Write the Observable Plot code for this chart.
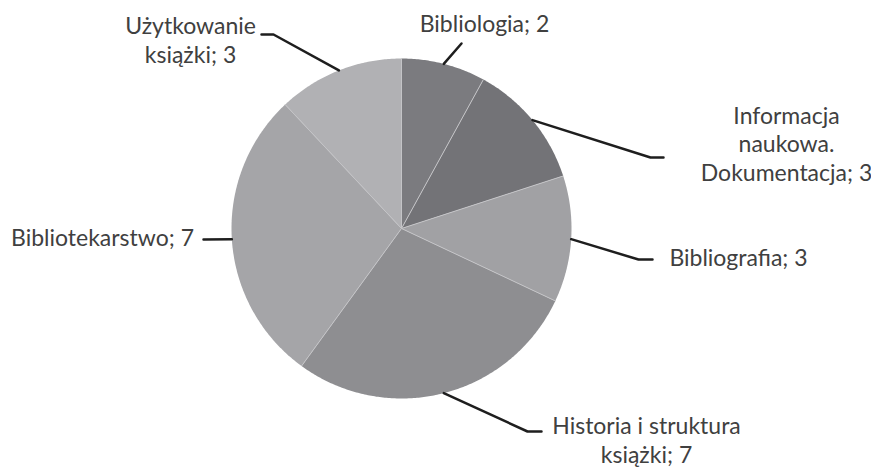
<!DOCTYPE html>
<html><head><meta charset="utf-8">
<script src="https://cdn.jsdelivr.net/npm/d3@7"></script>
<script src="https://cdn.jsdelivr.net/npm/@observablehq/plot@0.6"></script>
<style>body{margin:0;background:#fff}</style>
</head><body><div id="chart"></div>
<script>
// ---- data ----
const categories = ["Bibliologia", "Informacja naukowa. Dokumentacja", "Bibliografia", "Historia i struktura książki", "Bibliotekarstwo", "Użytkowanie książki"];
const values = [2, 3, 3, 7, 7, 3];
const labels = ["Bibliologia; 2", "Informacja\nnaukowa.\nDokumentacja; 3", "Bibliografia; 3", "Historia i struktura\nksiążki; 7", "Bibliotekarstwo; 7", "Użytkowanie\nksiążki; 3"];
const sliceColors = ["#7b7b7f", "#737377", "#a1a1a4", "#8e8e91", "#a5a5a8", "#b1b1b4"];

// ---- layout ----
const W = 871, H = 468, CX = 401, CY = 228, R = 170;
const labelPos = [
  {x: 484, y: 31, path: [[461, 43]]},
  {x: 786, y: 180, path: [[650, 157], [663, 157]]},
  {x: 738, y: 265, path: [[638, 259], [652, 259]]},
  {x: 646, y: 462, path: [[527, 431], [541, 431]]},
  {x: 102, y: 245, path: [[203, 239]]},
  {x: 190, y: 62, path: [[273, 34], [261, 34]]}
];

const table = categories.map((c, i) => ({cat: c, value: values[i], label: labels[i]}));
const arcs = d3.pie().sort(null).value(d => d.value)(table);
const px = (a, r) => CX + r * Math.sin(a);
const py = (a, r) => CY - r * Math.cos(a);

const sliceData = [];
arcs.forEach(a => {
  sliceData.push({cat: a.data.cat, x: CX, y: CY});
  const n = Math.max(2, Math.ceil((a.endAngle - a.startAngle) / 0.01));
  for (let k = 0; k <= n; k++) {
    const t = a.startAngle + (a.endAngle - a.startAngle) * k / n;
    sliceData.push({cat: a.data.cat, x: px(t, R), y: py(t, R)});
  }
});

const leaderData = [];
arcs.forEach((a, i) => {
  const mid = (a.startAngle + a.endAngle) / 2;
  leaderData.push({cat: a.data.cat, x: px(mid, R), y: py(mid, R)});
  labelPos[i].path.forEach(p => leaderData.push({cat: a.data.cat, x: p[0], y: p[1]}));
});

const labelData = arcs.map((a, i) => ({label: a.data.label, x: labelPos[i].x, y: labelPos[i].y}));

const chart = Plot.plot({
  width: W, height: H,
  marginTop: 0, marginRight: 0, marginBottom: 0, marginLeft: 0,
  x: {domain: [0, W], range: [0, W], axis: null},
  y: {domain: [0, H], range: [0, H], axis: null},
  color: {domain: categories, range: sliceColors},
  style: {background: "#fff"},
  marks: [
    Plot.line(sliceData, {x: "x", y: "y", z: "cat", fill: "cat", stroke: "none"}),
    Plot.link(arcs, {x1: () => CX, y1: () => CY, x2: d => px(d.startAngle, R), y2: d => py(d.startAngle, R), stroke: "#c4c4c7", strokeWidth: 1}),
    Plot.line(leaderData, {x: "x", y: "y", z: "cat", stroke: "#1e1e1e", strokeWidth: 2.5}),
    Plot.text(labelData, {x: "x", y: "y", text: "label", textAnchor: "middle", lineAnchor: "bottom", lineHeight: 1.22, fontSize: 23, fontFamily: "Lato", fill: "#404040"})
  ]
});
document.getElementById("chart").appendChild(chart);
</script>
</body></html>
